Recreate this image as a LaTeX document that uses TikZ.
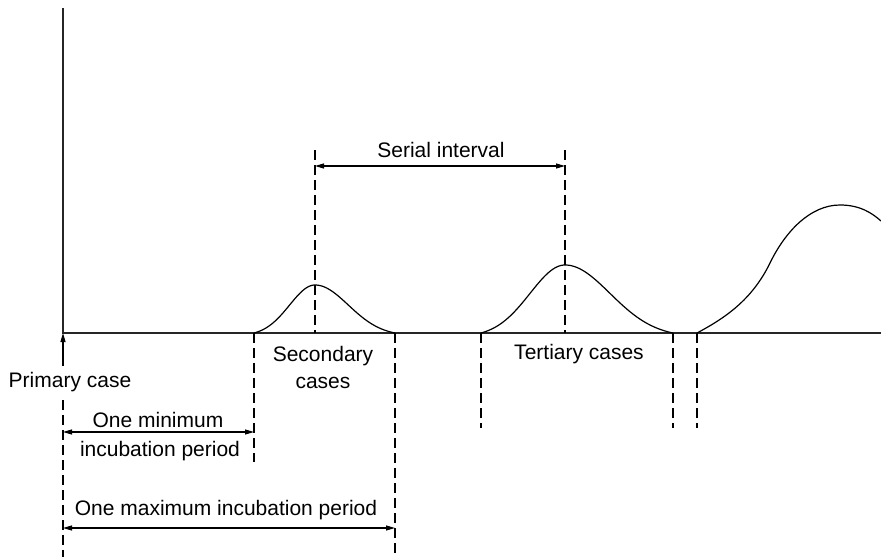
\documentclass[tikz,border=0pt]{standalone}
\usepackage{fontspec}
\setmainfont{Liberation Sans}
\usetikzlibrary{arrows.meta}
\begin{document}
\begin{tikzpicture}[x=1pt,y=-1pt,
  axis/.style={line width=1.4pt,draw=black!85},
  curve/.style={line width=1.2pt},
  guide/.style={line width=1.1pt,dash pattern=on 10pt off 5pt},
  span/.style={line width=1.1pt,{Triangle[length=9pt,width=5pt]}-{Triangle[length=9pt,width=5pt]}},
  lbl/.style={font=\fontsize{21}{27}\selectfont,inner sep=0pt,align=center}]
\useasboundingbox (0,0) rectangle (881,557);

% half bell: centre c, height h, half width w, spread factor 1.7
\def\bell#1#2#3{\draw[curve] plot[domain=#1:#1+#3,samples=70,smooth]
  (\x,{333-#2*(exp(-((\x-#1)*1.7/#3)^2)-exp(-2.89))/(1-exp(-2.89))});}

% axes
\coordinate (ytop) at (63,8);
\coordinate (orig) at (63,333);
\coordinate (xend) at (881,333);
\draw[axis] (ytop) -- (orig) -- (xend);

% primary case marker
\coordinate (pbot) at (63,366);
\coordinate (pdash) at (63,400);
\coordinate (pend) at (63,557);
\draw[line width=1.1pt,-{Triangle[length=9pt,width=5pt]}] (pbot) -- (orig);
\draw[guide] (pdash) -- (pend);
\node[lbl] (primary) at (70,382) {Primary case};

% secondary cases
\bell{315}{48}{-61}
\bell{315}{48}{80}
\coordinate (s1) at (254,333);
\coordinate (s1b) at (254,462);
\coordinate (s2) at (395,333);
\coordinate (s2b) at (395,557);
\coordinate (sp) at (315,333);
\coordinate (spt) at (315,150);
\draw[guide] (s1) -- (s1b);
\draw[guide] (s2) -- (s2b);
\draw[guide] (spt) -- (sp);
\node[lbl] (secondary) at (323,367) {Secondary\\cases};

% tertiary cases
\bell{565}{68}{-84}
\bell{565}{68}{108}
\coordinate (t1) at (481,333);
\coordinate (t1b) at (481,428);
\coordinate (t2) at (673,333);
\coordinate (t2b) at (673,428);
\coordinate (tp) at (565,333);
\coordinate (tpt) at (565,150);
\draw[guide] (t1) -- (t1b);
\draw[guide] (t2) -- (t2b);
\draw[guide] (tpt) -- (tp);
\node[lbl] (tertiary) at (579,354) {Tertiary cases};

% next generation
\coordinate (q1) at (697,333);
\coordinate (q1b) at (697,428);
\draw[guide] (q1) -- (q1b);
\draw[curve] (q1) .. controls (725,318) and (752,300) .. (770,263)
  .. controls (785,232) and (810,205) .. (840,205)
  .. controls (860,205) and (872,213) .. (881,221);

% serial interval
\coordinate (si1) at (315,166);
\coordinate (si2) at (565,166);
\draw[span] (si1) -- (si2);
\node[lbl] (serial) at (441,150) {Serial interval};

% minimum incubation period
\coordinate (mn1) at (63,432);
\coordinate (mn2) at (254,432);
\draw[span] (mn1) -- (mn2);
\node[lbl] (minlbl) at (158,420) {One minimum};
\node[lbl] (minlbl2) at (160,451) {incubation period};

% maximum incubation period
\coordinate (mx1) at (63,528);
\coordinate (mx2) at (395,528);
\draw[span] (mx1) -- (mx2);
\node[lbl] (maxlbl) at (226,510) {One maximum incubation period};
\end{tikzpicture}
\end{document}
